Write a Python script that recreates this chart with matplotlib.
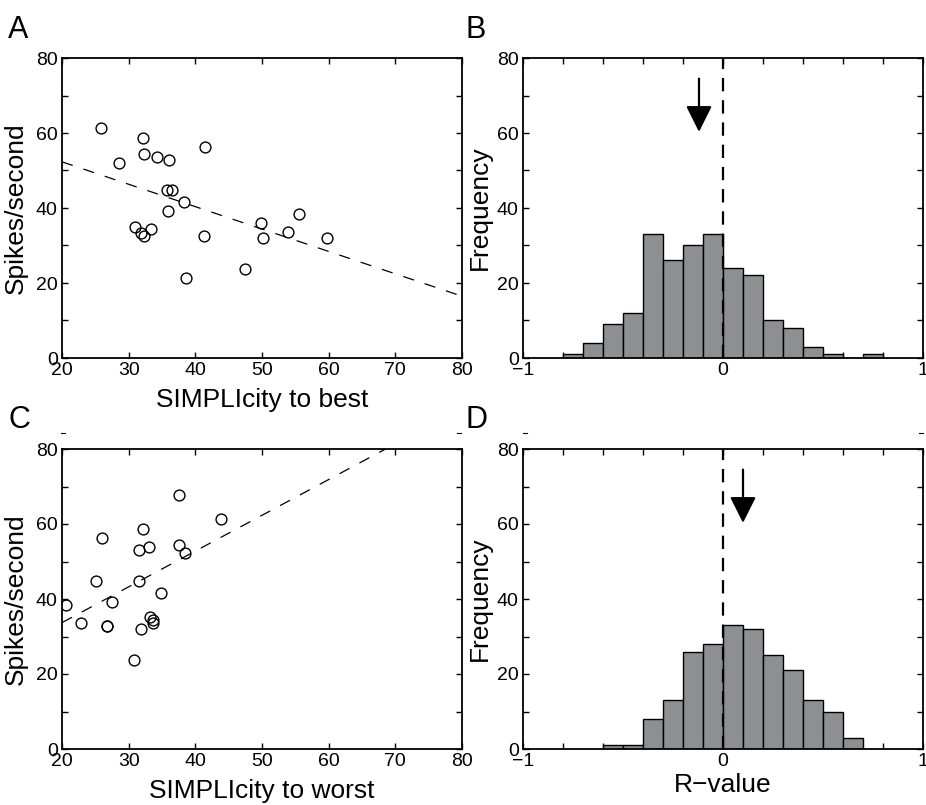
import numpy as np
import matplotlib
matplotlib.use("Agg")
import matplotlib.pyplot as plt
from matplotlib.lines import Line2D

plt.rcParams['font.family'] = ['Liberation Sans', 'DejaVu Sans']

# panel A: SIMPLIcity to best vs spikes/second
best_x = [25.8, 28.5, 32.2, 32.3, 34.3, 36.1, 41.4, 35.8, 36.5, 38.3, 35.9, 31.0,
          31.8, 32.3, 33.4, 41.3, 38.6, 47.4, 49.9, 50.1, 53.9, 55.6, 59.8]
best_y = [61.2, 52.1, 58.7, 54.3, 53.7, 52.9, 56.2, 44.8, 44.8, 41.6, 39.1, 35.0,
          33.4, 32.6, 34.3, 32.6, 21.2, 23.6, 35.9, 31.9, 33.5, 38.3, 31.9]
best_fit = (52.3, -0.597)   # value at x=20, slope

# panel C: SIMPLIcity to worst vs spikes/second
worst_x = [37.5, 43.8, 32.2, 26.0, 33.1, 31.6, 37.6, 38.5, 25.1, 31.5, 34.9, 20.6,
           27.5, 22.8, 26.8, 26.7, 33.2, 33.7, 33.6, 31.8, 30.8]
worst_y = [67.8, 61.3, 58.8, 56.4, 53.9, 53.0, 54.3, 52.3, 44.9, 44.9, 41.7, 38.4,
           39.2, 33.5, 32.7, 32.8, 35.1, 34.3, 33.5, 31.9, 23.7]
worst_fit = (33.7, 0.954)

# histograms of R-values (bins 0.1 wide)
b_edges = np.round(np.arange(-0.8, 0.81, 0.1), 2)
b_counts = [1, 4, 9, 12, 33, 26, 30, 33, 24, 22, 10, 8, 3, 1, 0, 1]
b_arrow = -0.12

d_edges = np.round(np.arange(-0.6, 0.71, 0.1), 2)
d_counts = [1, 1, 8, 13, 26, 28, 33, 32, 25, 21, 13, 10, 3]
d_arrow = 0.10

fig = plt.figure(figsize=(9.26, 8.05), dpi=100)
W, H = 926, 805


def add_ax(x0, y0, x1, y1):
    return fig.add_axes([x0 / W, 1 - y1 / H, (x1 - x0) / W, (y1 - y0) / H])


def style(ax):
    for s in ax.spines.values():
        s.set_linewidth(1.3)
    ax.tick_params(direction='in', top=True, right=True, length=4, width=1,
                   labelsize=14, pad=3)
    ax.set_ylim(0, 80)
    ax.set_yticks(np.arange(0, 81, 10))
    ax.set_yticklabels([str(v) if v % 20 == 0 else '' for v in range(0, 81, 10)])


def scatter_panel(ax, xs, ys, fit, xlabel):
    style(ax)
    ax.plot(xs, ys, 'o', mfc='none', mec='black', ms=7.8, mew=1.0)
    fx = np.array([20, 80])
    ax.plot(fx, fit[0] + fit[1] * (fx - 20), color='black', lw=0.9,
            dashes=(9, 9))
    ax.set_xlim(20, 80)
    ax.set_xticks(np.arange(20, 81, 10))
    ax.set_ylabel('Spikes/second', fontsize=19, labelpad=6)
    ax.set_xlabel(xlabel, fontsize=19, labelpad=6)


def hist_panel(ax, edges, counts, arrow_x, xlabel=None):
    style(ax)
    ax.bar(edges[:-1], counts, width=0.1, align='edge', color='#8e8f93',
           edgecolor='black', linewidth=1.0, zorder=2)
    ax.plot([0, 0], [0, 80], color='black', lw=1.6, dashes=(6, 4), zorder=3)
    ax.annotate('', xy=(arrow_x, 60.3), xytext=(arrow_x, 74.5),
                arrowprops=dict(arrowstyle='-|>,head_length=0.8,head_width=0.4',
                                color='black', lw=1.6, mutation_scale=20,
                                shrinkA=0, shrinkB=0))
    ax.set_xlim(-1, 1)
    ticks = np.round(np.arange(-1, 1.01, 0.2), 1)
    ax.set_xticks(ticks)
    ax.set_xticklabels(['\u22121' if t == -1 else ('0' if t == 0 else ('1' if t == 1 else ''))
                        for t in ticks])
    ax.set_ylabel('Frequency', fontsize=19, labelpad=4)
    if xlabel:
        ax.set_xlabel(xlabel, fontsize=19, labelpad=2)


axA = add_ax(62, 58, 462, 358)
axB = add_ax(523, 58, 923, 358)
axC = add_ax(62, 449, 462, 749)
axD = add_ax(523, 449, 923, 749)

scatter_panel(axA, best_x, best_y, best_fit, 'SIMPLIcity to best')
scatter_panel(axC, worst_x, worst_y, worst_fit, 'SIMPLIcity to worst')
hist_panel(axB, b_edges, b_counts, b_arrow)
hist_panel(axD, d_edges, d_counts, d_arrow, 'R\u2212value')

for letter, px, py in [('A', 8, 38), ('B', 466, 38), ('C', 8, 428), ('D', 466, 428)]:
    fig.text(px / W, 1 - py / H, letter, fontsize=22, ha='left', va='baseline')

# small stray tick marks above the lower panels
for mx in [63, 459, 525, 921]:
    fig.add_artist(Line2D([(mx - 2) / W, (mx + 2) / W], [1 - 433 / H, 1 - 433 / H],
                          color='black', lw=0.8))

fig.savefig('out.png', dpi=100)
